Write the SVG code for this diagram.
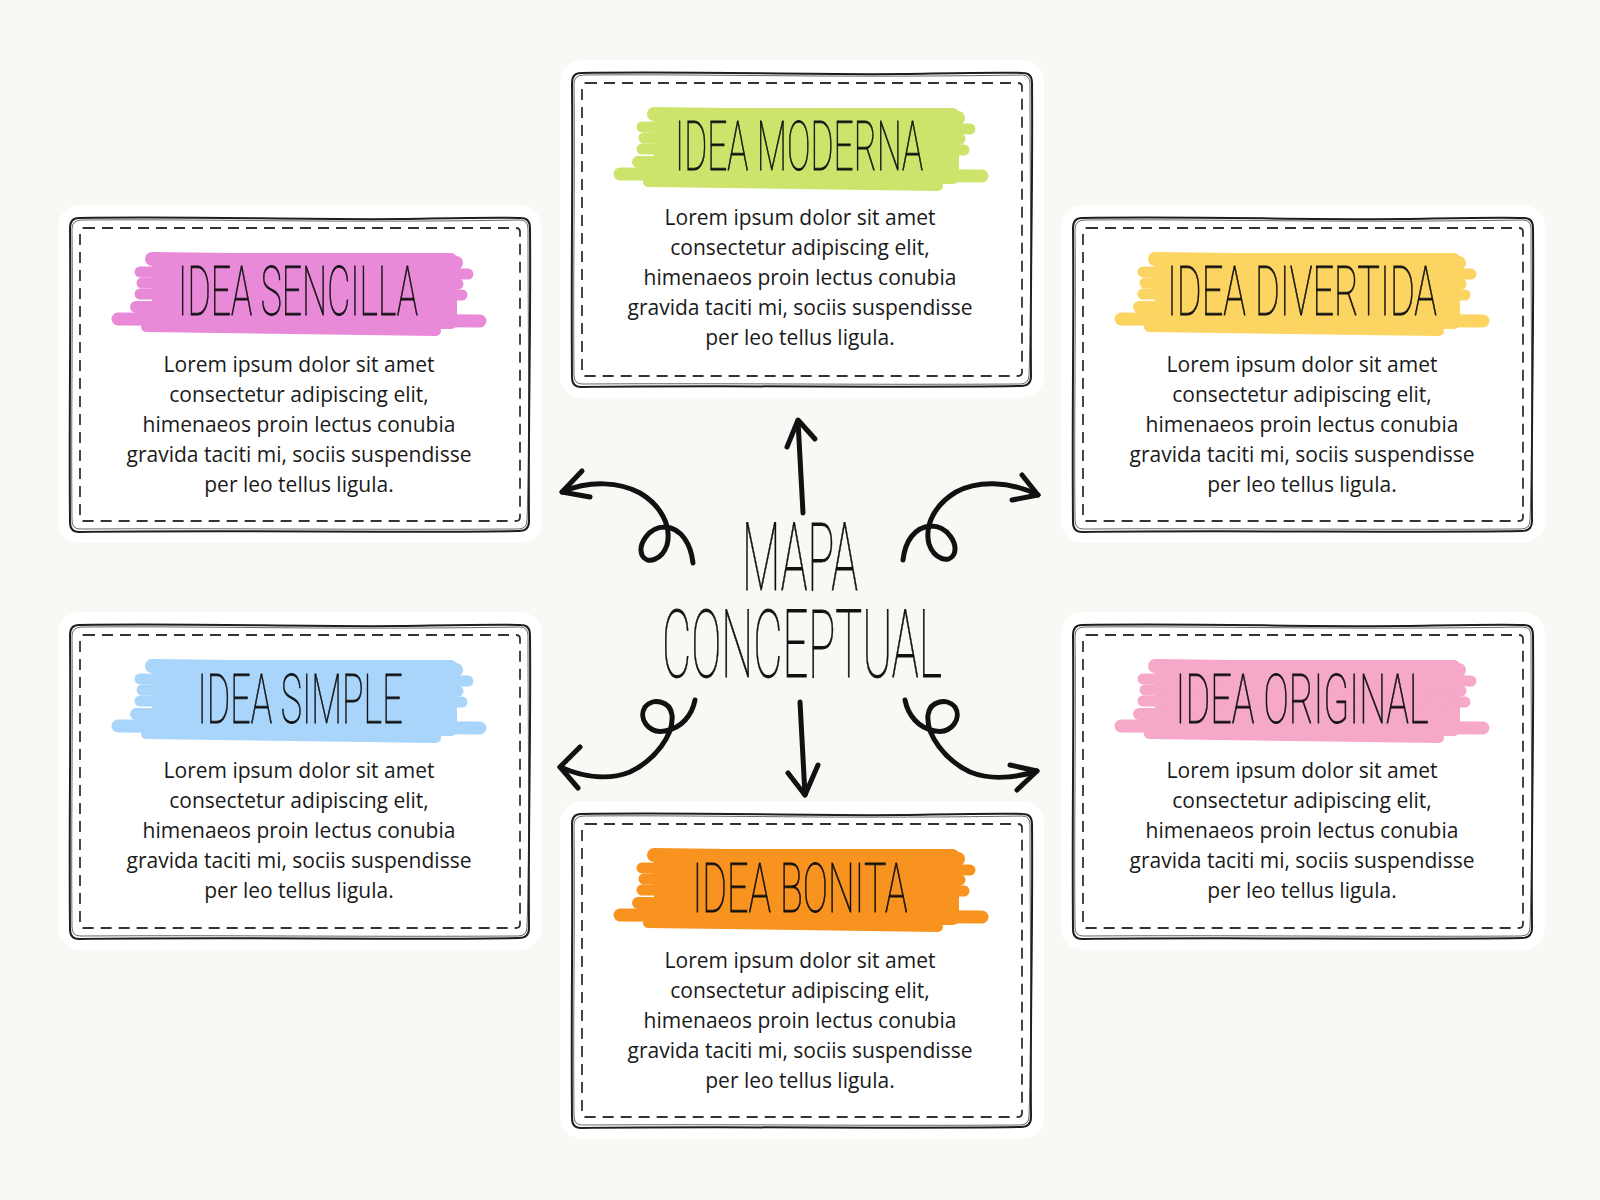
<svg xmlns="http://www.w3.org/2000/svg" xmlns:xlink="http://www.w3.org/1999/xlink" width="1600" height="1200" viewBox="0 0 1600 1200">
<style>
.bg{fill:#f8f8f4}
.back{fill:#ffffff}
.b1{fill:none;stroke:#1e1e1e;stroke-width:2;stroke-linejoin:round}
.b2{fill:none;stroke:#2a2a2a;stroke-width:1;opacity:.7}
.dash{fill:none;stroke:#333;stroke-width:1.8;stroke-dasharray:11 7}
.title{font-family:Roboto,"Liberation Sans",sans-serif;font-weight:100;font-size:68px;fill:#111;stroke:#111;stroke-width:0.8;text-anchor:middle}
.big{font-family:Roboto,"Liberation Sans",sans-serif;font-weight:100;font-size:94px;fill:#111;stroke:#111;stroke-width:0.8;text-anchor:middle}
.body{font-family:"Open Sans","Liberation Sans",sans-serif;font-size:21px;fill:#1a1a1a;text-anchor:middle}
.arrow{fill:none;stroke:#111;stroke-width:5;stroke-linecap:round;stroke-linejoin:round}
.brush path{fill:none;stroke:currentColor;stroke-linecap:round}
.brush rect{fill:currentColor}
.streak{fill:none;stroke:#fff;stroke-width:1.5;opacity:.55}
</style>
<defs>
<g id="frame">
<rect class="back" x="-12" y="-12" width="484" height="338" rx="22"/>
<path class="b1" d="M9,1 C120,-1 230,3 330,2 C390,1 430,0 451,1 Q460,1 460,11 C461,110 458,210 459,304 Q459,314 449,314 C330,316 160,313 9,315 Q0,315 0,305 C-1,200 1,110 0,11 Q0,1 9,1 Z"/>
<path class="b2" d="M12,3 C150,2 260,6 450,3 Q458,3 458,12 C458,120 460,220 457,303 Q457,312 448,312 C300,313 150,311 10,312 Q2,312 2,303 C1,210 3,100 2,12 Q2,3 12,3 Z"/>
<path class="dash" d="M14,11 L446,11 Q450,11 450,15 L450,300 Q450,304 446,304 L14,304 Q10,304 10,300 L10,15 Q10,11 14,11 Z"/>
</g>
<g id="brush" class="brush">
<rect x="82" y="36" width="305" height="76" rx="6"/>
<path d="M82,42 L386,46" stroke-width="14"/>
<path d="M70,55 L398,57" stroke-width="11"/>
<path d="M72,66 L388,67" stroke-width="11"/>
<path d="M70,77 L392,78" stroke-width="11"/>
<path d="M66,90 L378,92" stroke-width="12"/>
<path d="M48,102 L410,104" stroke-width="13"/>
<path d="M76,110 L366,114" stroke-width="10"/>
<path class="streak" d="M230,70 L387,69"/>
</g>
</defs>
<rect class="bg" x="0" y="0" width="1600" height="1200"/>

<g id="connectors">
<path class="arrow" d="M803,513 L798,421"/>
<path class="arrow" d="M787,447 L798,420 L815,439"/>
<path class="arrow" d="M800,702 L805,795"/>
<path class="arrow" d="M788,773 L805,795 L818,765"/>
<path class="arrow" d="M693,563 C691,545 682,528 665,527 C648,527 638,545 642,555 C647,565 662,560 667,545 C672,525 660,505 640,493 C620,482 590,480 562,492"/>
<path class="arrow" d="M582,471 L562,492 L590,497"/>
<path class="arrow" d="M903,560 C905,542 914,527 931,526 C948,526 958,544 954,554 C949,564 934,559 929,544 C924,524 936,504 956,492 C976,481 1008,480 1038,495"/>
<path class="arrow" d="M1022,475 L1038,495 L1012,500"/>
<path class="arrow" d="M905,700 C908,715 918,728 935,731 C952,734 962,718 955,707 C948,698 930,700 928,715 C926,735 945,760 970,772 C990,780 1015,778 1037,771"/>
<path class="arrow" d="M1010,765 L1037,771 L1017,790"/>
<path class="arrow" d="M695,700 C692,715 682,728 665,731 C648,734 638,718 645,707 C652,698 670,700 672,715 C674,735 655,760 630,772 C610,780 585,778 560,767"/>
<path class="arrow" d="M580,747 L560,767 L578,788"/>
</g>

<g id="center">
<text class="big" transform="translate(800,590) scale(0.47,1)" x="0" y="0" textLength="247" lengthAdjust="spacingAndGlyphs">MAPA</text>
<text class="big" transform="translate(802,677) scale(0.47,1)" x="0" y="0" textLength="596" lengthAdjust="spacingAndGlyphs">CONCEPTUAL</text>
</g>

<g id="node-moderna" transform="translate(572,72)">
<use xlink:href="#frame"/>
<use xlink:href="#brush" style="color:#cde46c"/>
<text class="title" transform="translate(227,98) scale(0.55,1)" x="0" y="0" textLength="451" lengthAdjust="spacingAndGlyphs">IDEA MODERNA</text>
<text class="body" x="228"><tspan x="228" y="153">Lorem ipsum dolor sit amet</tspan><tspan x="228" y="183">consectetur adipiscing elit,</tspan><tspan x="228" y="213">himenaeos proin lectus conubia</tspan><tspan x="228" y="243">gravida taciti mi, sociis suspendisse</tspan><tspan x="228" y="273">per leo tellus ligula.</tspan></text>
</g>

<g id="node-sencilla" transform="translate(70,217)">
<use xlink:href="#frame"/>
<use xlink:href="#brush" style="color:#e98ad9"/>
<text class="title" transform="translate(228,98) scale(0.55,1)" x="0" y="0" textLength="436" lengthAdjust="spacingAndGlyphs">IDEA SENCILLA</text>
<text class="body" x="229"><tspan x="229" y="155">Lorem ipsum dolor sit amet</tspan><tspan x="229" y="185">consectetur adipiscing elit,</tspan><tspan x="229" y="215">himenaeos proin lectus conubia</tspan><tspan x="229" y="245">gravida taciti mi, sociis suspendisse</tspan><tspan x="229" y="275">per leo tellus ligula.</tspan></text>
</g>

<g id="node-divertida" transform="translate(1073,217)">
<use xlink:href="#frame"/>
<use xlink:href="#brush" style="color:#fcd462"/>
<text class="title" transform="translate(229,98) scale(0.55,1)" x="0" y="0" textLength="491" lengthAdjust="spacingAndGlyphs">IDEA DIVERTIDA</text>
<text class="body" x="229"><tspan x="229" y="155">Lorem ipsum dolor sit amet</tspan><tspan x="229" y="185">consectetur adipiscing elit,</tspan><tspan x="229" y="215">himenaeos proin lectus conubia</tspan><tspan x="229" y="245">gravida taciti mi, sociis suspendisse</tspan><tspan x="229" y="275">per leo tellus ligula.</tspan></text>
</g>

<g id="node-simple" transform="translate(70,624)">
<use xlink:href="#frame"/>
<use xlink:href="#brush" style="color:#a9d5fb"/>
<text class="title" transform="translate(230,99) scale(0.55,1)" x="0" y="0" textLength="373" lengthAdjust="spacingAndGlyphs">IDEA SIMPLE</text>
<text class="body" x="229"><tspan x="229" y="154">Lorem ipsum dolor sit amet</tspan><tspan x="229" y="184">consectetur adipiscing elit,</tspan><tspan x="229" y="214">himenaeos proin lectus conubia</tspan><tspan x="229" y="244">gravida taciti mi, sociis suspendisse</tspan><tspan x="229" y="274">per leo tellus ligula.</tspan></text>
</g>

<g id="node-original" transform="translate(1073,624)">
<use xlink:href="#frame"/>
<use xlink:href="#brush" style="color:#f6a8c8"/>
<text class="title" transform="translate(229,99) scale(0.55,1)" x="0" y="0" textLength="460" lengthAdjust="spacingAndGlyphs">IDEA ORIGINAL</text>
<text class="body" x="229"><tspan x="229" y="154">Lorem ipsum dolor sit amet</tspan><tspan x="229" y="184">consectetur adipiscing elit,</tspan><tspan x="229" y="214">himenaeos proin lectus conubia</tspan><tspan x="229" y="244">gravida taciti mi, sociis suspendisse</tspan><tspan x="229" y="274">per leo tellus ligula.</tspan></text>
</g>

<g id="node-bonita" transform="translate(572,813)">
<use xlink:href="#frame"/>
<use xlink:href="#brush" style="color:#f8931f"/>
<text class="title" transform="translate(228,99) scale(0.55,1)" x="0" y="0" textLength="391" lengthAdjust="spacingAndGlyphs">IDEA BONITA</text>
<text class="body" x="228"><tspan x="228" y="155">Lorem ipsum dolor sit amet</tspan><tspan x="228" y="185">consectetur adipiscing elit,</tspan><tspan x="228" y="215">himenaeos proin lectus conubia</tspan><tspan x="228" y="245">gravida taciti mi, sociis suspendisse</tspan><tspan x="228" y="275">per leo tellus ligula.</tspan></text>
</g>
</svg>
